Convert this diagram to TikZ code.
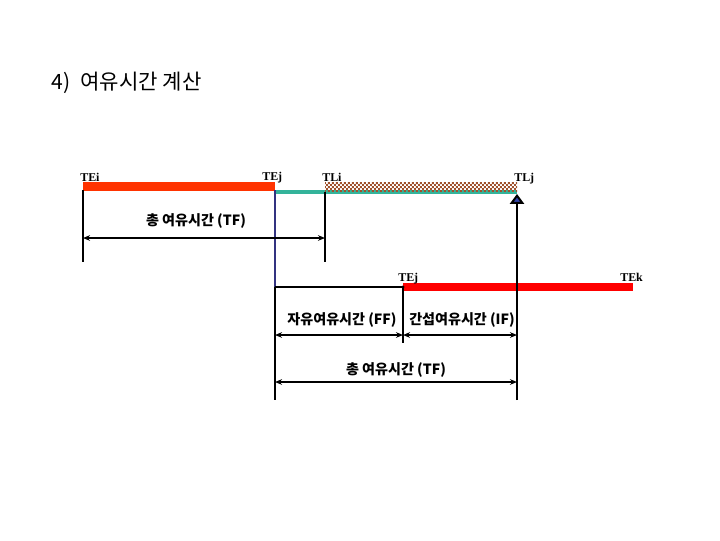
\documentclass[tikz,border=0pt]{standalone}
\usepackage{fontspec}
\setmainfont{Liberation Serif}
\newfontfamily\kor{Noto Sans CJK KR}
\usepackage{xcolor}
\definecolor{cBarE}{HTML}{FF3300}
\definecolor{cBarK}{HTML}{FF0000}
\definecolor{cTeal}{HTML}{33B39A}
\definecolor{cNavy}{HTML}{333380}
\definecolor{cHatch}{HTML}{A0522D}
\definecolor{cTip}{HTML}{3344AA}
\usetikzlibrary{positioning,arrows.meta,patterns}
\pgfdeclarepatternformonly{finechecker}{\pgfpointorigin}{\pgfqpoint{2.8pt}{2.8pt}}{\pgfqpoint{2.8pt}{2.8pt}}{%
  \pgfpathrectangle{\pgfpointorigin}{\pgfqpoint{1.4pt}{1.4pt}}%
  \pgfpathrectangle{\pgfqpoint{1.4pt}{1.4pt}}{\pgfqpoint{1.4pt}{1.4pt}}%
  \pgfusepath{fill}}
\tikzset{
  bar-e/.style={line width=6.4pt,draw=cBarE},
  bar-k/.style={line width=5pt,draw=cBarK},
  bar-free/.style={line width=2.5pt,draw=cTeal},
  bar-late/.style={pattern=finechecker,pattern color=cHatch},
  tick/.style={line width=1.4pt,draw=black},
  tick-navy/.style={line width=1.6pt,draw=cNavy},
  span/.style={{Stealth[length=5pt,width=4pt]}-{Stealth[length=5pt,width=4pt]},line width=1.4pt},
  late-tip/.style={-{Triangle[length=7pt,width=10pt,fill=cTip]},line width=1.4pt},
  time-lbl/.style={font=\bfseries\fontsize{8.5}{9}\selectfont,inner sep=0pt,anchor=base west},
  slack-lbl/.style={font=\kor\bfseries\fontsize{10}{11}\selectfont,inner sep=1pt},
}

\begin{document}
\begin{tikzpicture}[x=0.025cm,y=-0.025cm]
  \useasboundingbox (0,0) rectangle (720,540);
  \node[font=\kor\fontsize{15}{16}\selectfont,anchor=west] (title) at (47,83) {4)~ 여유시간 계산};
  % 시점 좌표
  \coordinate (tei)  at (83,186);
  \coordinate (tej)  at (275,186);
  \coordinate (tli)  at (325,186);
  \coordinate (tlj)  at (517,186);
  \coordinate (tej2) at (403,287);
  \coordinate (tek)  at (633,287);
  % 막대
  \draw[bar-free] (275,192) -- (517,192);
  \fill[bar-late] (325,182) rectangle (517,191);
  \draw[bar-e] (tei) -- (tej);
  \draw[bar-k] (tej2) -- (tek);
  \node[time-lbl] (l-tei)  at (80,181)  {TEi};
  \node[time-lbl] (l-tej)  at (262,180) {TEj};
  \node[time-lbl] (l-tli)  at (322,181) {TLi};
  \node[time-lbl] (l-tlj)  at (514,181) {TLj};
  \node[time-lbl] (l-tej2) at (398,281) {TEj};
  \node[time-lbl] (l-tek)  at (620,281) {TEk};
  % 수직선
  \draw[tick] (83,190) -- (83,262);
  \draw[tick] (325,192) -- (325,262);
  \draw[tick-navy] (275,190) -- (275,287);
  \draw[tick] (275,287) -- (275,400);
  \draw[tick] (275,287) -- (tej2);
  \fill (tej2) circle (1.6);
  \draw[tick] (tej2) -- (403,343);
  \draw[late-tip] (517,400) -- (517,194);
  % 여유시간
  \coordinate (tf1-a) at (83,238);   \coordinate (tf1-b) at (325,238);
  \coordinate (ff-a)  at (275,335);  \coordinate (ff-b)  at (403,335);
  \coordinate (if-b)  at (517,335);
  \coordinate (tf2-a) at (275,382);  \coordinate (tf2-b) at (517,382);
  \draw[span] (tf1-a) -- (tf1-b);
  \draw[span] (ff-a) -- (ff-b);
  \draw[span] (ff-b) -- (if-b);
  \draw[span] (tf2-a) -- (tf2-b);
  \node[slack-lbl] (s-tf1) at (196,221) {총 여유시간 (TF)};
  \node[slack-lbl] (s-ff)  at (342,320) {자유여유시간 (FF)};
  \node[slack-lbl] (s-if)  at (462,320) {간섭여유시간 (IF)};
  \node[slack-lbl] (s-tf2) at (396,370) {총 여유시간 (TF)};
\end{tikzpicture}
\end{document}
